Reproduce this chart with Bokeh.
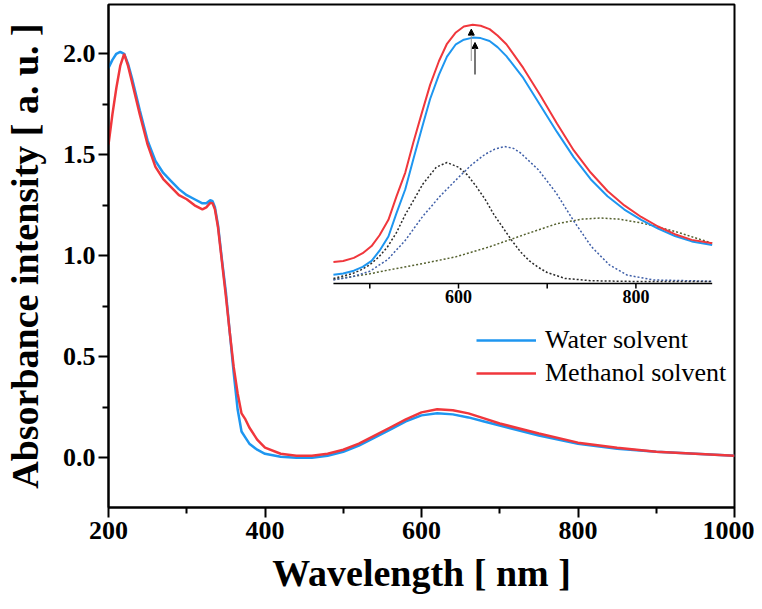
from bokeh.plotting import figure
from bokeh.models import Range1d, FixedTicker, Legend, LegendItem, Arrow, NormalHead
from bokeh.core.properties import value
from bokeh.embed import file_html
from bokeh.resources import INLINE

# ---------------- main spectra ----------------
wavelength = [200, 205, 210, 215, 220, 225, 230, 240, 250, 260, 270, 280, 290, 300, 310, 320, 325,
              330, 333, 336, 340, 345, 350, 355, 360, 365, 370, 375, 380, 390, 400, 420, 440, 460,
              480, 500, 520, 540, 560, 580, 600, 620, 640, 660, 680, 700, 750, 800, 850, 900, 950, 1000]
water = [1.93, 1.97, 2.00, 2.01, 2.00, 1.95, 1.88, 1.72, 1.57, 1.47, 1.41, 1.37, 1.33, 1.30, 1.28,
         1.26, 1.26, 1.275, 1.27, 1.24, 1.15, 0.98, 0.82, 0.62, 0.42, 0.24, 0.13, 0.10, 0.07, 0.04,
         0.02, 0.005, 0.0, 0.0, 0.01, 0.03, 0.06, 0.10, 0.14, 0.18, 0.21, 0.22, 0.215, 0.20, 0.18,
         0.16, 0.11, 0.07, 0.045, 0.03, 0.02, 0.01]
methanol = [1.55, 1.70, 1.83, 1.94, 2.00, 1.94, 1.86, 1.70, 1.55, 1.44, 1.38, 1.34, 1.30, 1.28, 1.25,
            1.23, 1.24, 1.262, 1.26, 1.23, 1.14, 0.97, 0.80, 0.62, 0.45, 0.32, 0.22, 0.19, 0.15, 0.09,
            0.05, 0.02, 0.01, 0.01, 0.02, 0.04, 0.07, 0.11, 0.15, 0.19, 0.225, 0.24, 0.235, 0.22, 0.195,
            0.17, 0.12, 0.075, 0.05, 0.03, 0.02, 0.01]

x_major = [200, 400, 600, 800, 1000]
x_minor = [300, 500, 700, 900]
y_major = [0.0, 0.5, 1.0, 1.5, 2.0]
y_minor = [-0.25, 0.25, 0.75, 1.25, 1.75]

# ---------------- inset (normalised units) ----------------
inset_wl = [459, 470, 482, 492, 502, 511, 521, 530, 540, 549, 559, 568, 578, 587, 597, 606, 616, 625,
            635, 644, 654, 673, 692, 711, 730, 749, 768, 787, 806, 825, 844, 863, 886]
inset_methanol = [0.076, 0.08, 0.092, 0.11, 0.138, 0.18, 0.24, 0.33, 0.424, 0.54, 0.66, 0.765, 0.858,
                  0.925, 0.969, 0.992, 0.999, 0.995, 0.982, 0.957, 0.923, 0.831, 0.726, 0.615, 0.51,
                  0.424, 0.352, 0.296, 0.251, 0.214, 0.184, 0.162, 0.149]
inset_water = [0.026, 0.031, 0.042, 0.057, 0.08, 0.12, 0.175, 0.265, 0.359, 0.475, 0.60, 0.71, 0.805,
               0.875, 0.923, 0.941, 0.949, 0.947, 0.936, 0.912, 0.877, 0.792, 0.687, 0.582, 0.483,
               0.398, 0.332, 0.280, 0.240, 0.206, 0.177, 0.156, 0.142]

comp1_wl = [459, 480, 490, 500, 510, 520, 530, 540, 550, 560, 575, 587, 600, 610, 620, 630, 640, 650,
            660, 670, 680, 690, 700, 720, 750, 800, 886]
comp1 = [0.012, 0.03, 0.045, 0.065, 0.095, 0.135, 0.19, 0.26, 0.32, 0.38, 0.445, 0.463, 0.445, 0.415,
         0.37, 0.32, 0.26, 0.21, 0.16, 0.115, 0.08, 0.055, 0.035, 0.012, 0.003, 0.0, 0.0]
comp2_wl = [459, 480, 500, 520, 540, 560, 580, 600, 615, 630, 641, 652, 662, 670, 690, 710, 730, 750,
            770, 790, 820, 886]
comp2 = [0.006, 0.018, 0.04, 0.085, 0.16, 0.255, 0.335, 0.405, 0.455, 0.495, 0.515, 0.525, 0.518,
         0.50, 0.435, 0.345, 0.235, 0.135, 0.065, 0.025, 0.006, 0.001]
comp3_wl = [459, 500, 520, 560, 597, 635, 673, 711, 740, 760, 780, 806, 844, 886]
comp3 = [0.008, 0.03, 0.044, 0.07, 0.096, 0.135, 0.181, 0.225, 0.243, 0.247, 0.243, 0.228, 0.195, 0.149]

inset_axis_span = [459, 886]
inset_major = [600, 800]
inset_minor = [500, 700]
arrow_x = [618.6, 614.4]
arrow_from = [0.805, 0.858]
arrow_to = [0.93, 0.982]

BLUE = "#1E96F0"
RED = "#F0373C"
FONT = "Liberation Serif"

p = figure(width=754, height=605, output_backend="svg", toolbar_location=None,
           x_range=Range1d(200, 1000), y_range=Range1d(-0.246, 2.244),
           min_border_left=108, min_border_right=20, min_border_top=4, min_border_bottom=98)

p.grid.visible = False
p.outline_line_color = "black"
p.outline_line_width = 2
p.background_fill_color = "white"

# inset ranges mapped onto the same frame (frame spans screen 108..734, 4..507)
px_per_nm = 0.887
ix0 = 600 - (458 - 108) / px_per_nm
ix1 = 600 + (734 - 458) / px_per_nm
p.extra_x_ranges = {"ix": Range1d(ix0, ix1)}
p.extra_y_ranges = {"iy": Range1d((281 - 507) / 257, (281 - 4) / 257)}

for ax in (p.xaxis[0], p.yaxis[0]):
    ax.axis_line_width = 2
    ax.major_tick_line_width = 2
    ax.minor_tick_line_width = 2
    ax.major_tick_out = 10
    ax.major_tick_in = 0
    ax.minor_tick_out = 6
    ax.minor_tick_in = 0
    ax.major_label_text_font = FONT
    ax.major_label_text_font_style = "bold"
    ax.major_label_text_font_size = "26px"
    ax.major_label_text_color = "black"
    ax.axis_label_text_font = FONT
    ax.axis_label_text_font_style = "bold"
    ax.axis_label_text_font_size = "38px"
    ax.axis_label_text_color = "black"

p.xaxis[0].major_label_standoff = 4
p.xaxis[0].axis_label_standoff = 10
p.yaxis[0].major_label_standoff = 3
p.yaxis[0].axis_label_standoff = 14

p.xaxis[0].ticker = FixedTicker(ticks=x_major, minor_ticks=x_minor)
p.yaxis[0].ticker = FixedTicker(ticks=y_major, minor_ticks=y_minor)
p.yaxis[0].major_label_overrides = {0.0: "0.0", 1.0: "1.0", 2.0: "2.0"}
p.xaxis[0].axis_label = "Wavelength [ nm ]"
p.yaxis[0].axis_label = "Absorbance intensity [ a. u. ]"

r_water = p.line(wavelength, water, line_color=BLUE, line_width=2.5)
r_meth = p.line(wavelength, methanol, line_color=RED, line_width=2.5)

# inset
kw = dict(x_range_name="ix", y_range_name="iy")
p.line(comp3_wl, comp3, line_color="#55612F", line_width=1.5, line_dash="2 2", **kw)
p.line(comp2_wl, comp2, line_color="#3F5FA8", line_width=1.5, line_dash="2 2", **kw)
p.line(comp1_wl, comp1, line_color="#2A2A2A", line_width=1.5, line_dash="2 2", **kw)
p.line(inset_wl, inset_water, line_color=BLUE, line_width=2, **kw)
p.line(inset_wl, inset_methanol, line_color=RED, line_width=2, **kw)

axis_y = (281 - 283) / 257
tick_len = 5 / 257
p.line(inset_axis_span, [axis_y, axis_y], line_color="black", line_width=1.5, **kw)
ticks_all = inset_major + inset_minor
p.segment(x0=ticks_all, y0=[axis_y] * len(ticks_all), x1=ticks_all,
          y1=[axis_y - tick_len] * len(ticks_all), line_color="black", line_width=1.5, **kw)
p.text(x=inset_major, y=[(281 - 296) / 257] * len(inset_major), text=[str(t) for t in inset_major],
       text_font=value(FONT), text_font_style="bold", text_font_size="18px",
       text_align="center", text_baseline="middle", text_color="black", **kw)

arrow_colors = ["#777777", "#999999"]
arrow_widths = [2, 1]
for xa, ya, yb, c, w in zip(arrow_x, arrow_from, arrow_to, arrow_colors, arrow_widths):
    p.add_layout(Arrow(end=NormalHead(size=6, fill_color="black", line_color="black", line_width=1),
                       x_start=xa, y_start=ya, x_end=xa, y_end=yb,
                       line_color=c, line_width=w, **kw))

legend = Legend(items=[LegendItem(label="Water solvent", renderers=[r_water]),
                       LegendItem(label="Methanol solvent", renderers=[r_meth])],
                location=(368, 119))
legend.border_line_color = None
legend.background_fill_alpha = 0
legend.padding = 0
legend.margin = 0
legend.spacing = 3
legend.glyph_width = 60
legend.glyph_height = 20
legend.label_height = 28
legend.label_standoff = 9
legend.label_text_font = FONT
legend.label_text_font_size = "26px"
legend.label_text_color = "black"
p.add_layout(legend, "center")

open("out.html", "w").write(file_html(p, INLINE))
